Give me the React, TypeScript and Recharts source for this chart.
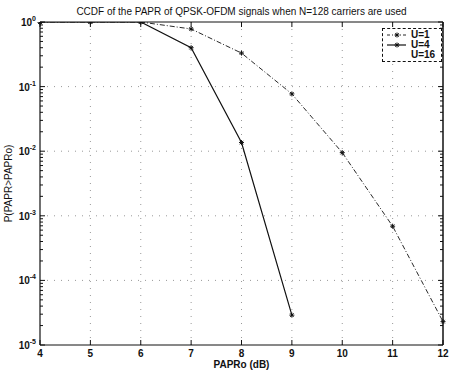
import React from "react";
import { LineChart, Line, XAxis, YAxis, ReferenceLine } from "recharts";

const papr = [4, 5, 6, 7, 8, 9, 10, 11, 12];
const u1 = [1, 1, 1, 0.78, 0.33, 0.077, 0.0095, 0.00069, 0.000023];
const u4 = [1, 1, 1, 0.4, 0.0136, 0.000029, null, null, null];
const xTicks = [4, 5, 6, 7, 8, 9, 10, 11, 12];
const xGrid = [5, 6, 7, 8, 9, 10, 11];
const yMajor = [1e-5, 1e-4, 1e-3, 1e-2, 1e-1, 1];
const yGrid = [1e-4, 1e-3, 1e-2, 1e-1];
const yMinorMult = [2, 3, 4, 5, 6, 7, 8, 9];
const seriesNames = ["U=1", "U=4", "U=16"];
const title = "CCDF of the PAPR of QPSK-OFDM signals when N=128 carriers are used";

const yTicks: number[] = [];
yMajor.forEach((m, i) => {
  yTicks.push(m);
  if (i < yMajor.length - 1) yMinorMult.forEach((k) => yTicks.push(m * k));
});

const data = papr.map((x, i) => ({ x, u1: u1[i], u4: u4[i] }));

const FONT = "'Liberation Sans', Arial, sans-serif";
const INK = "#111";

const isMajor = (v: number) => Math.abs(Math.log10(v) - Math.round(Math.log10(v))) < 1e-6;

const LeftTick = (props: any) => {
  const { x, y, payload } = props;
  const v = payload.value;
  const major = isMajor(v);
  const e = Math.round(Math.log10(v));
  return (
    <g>
      <line x1={x} x2={x + (major ? 5 : 3)} y1={y} y2={y} stroke={INK} strokeWidth={1} />
      {major && (
        <text x={x - 4} y={y + 4} textAnchor="end" fontFamily={FONT} fontSize={10} fontWeight="bold" fill={INK}>
          10
          <tspan dy={-5} fontSize={7}>{e}</tspan>
        </text>
      )}
    </g>
  );
};

const RightTick = (props: any) => {
  const { x, y, payload } = props;
  const major = isMajor(payload.value);
  return <line x1={x} x2={x - (major ? 5 : 3)} y1={y} y2={y} stroke={INK} strokeWidth={1} />;
};

const BottomTick = (props: any) => {
  const { x, y, payload } = props;
  return (
    <g>
      <line x1={x} x2={x} y1={y} y2={y - 5} stroke={INK} strokeWidth={1} />
      <text x={x} y={y + 12} textAnchor="middle" fontFamily={FONT} fontSize={10} fontWeight="bold" fill={INK}>
        {payload.value}
      </text>
    </g>
  );
};

const TopTick = (props: any) => {
  const { x, y } = props;
  return <line x1={x} x2={x} y1={y} y2={y + 5} stroke={INK} strokeWidth={1} />;
};

const Star = (props: any) => {
  const { cx, cy } = props;
  if (cx == null || cy == null) return null;
  const r = 2.5;
  return (
    <g stroke={INK} strokeWidth={1}>
      <line x1={cx - r} x2={cx + r} y1={cy} y2={cy} />
      <line x1={cx} x2={cx} y1={cy - r} y2={cy + r} />
      <line x1={cx - r * 0.7} x2={cx + r * 0.7} y1={cy - r * 0.7} y2={cy + r * 0.7} />
      <line x1={cx - r * 0.7} x2={cx + r * 0.7} y1={cy + r * 0.7} y2={cy - r * 0.7} />
    </g>
  );
};

const LegendBox = () => {
  const samples = [
    { dash: "3 2 1 2", width: 0.9, marker: true },
    { dash: undefined, width: 1.2, marker: true },
    { dash: undefined, width: 0, marker: false },
  ];
  return (
    <div
      style={{
        position: "absolute",
        left: 382,
        top: 28,
        border: `1px dashed ${INK}`,
        background: "#fff",
        width: 60,
        height: 34,
        boxSizing: "border-box",
        padding: "1px 0 0 3px",
        fontFamily: FONT,
        fontSize: 10,
        fontWeight: "bold",
        color: INK,
      }}
    >
      {seriesNames.map((n, i) => (
        <div key={n} style={{ display: "flex", alignItems: "center", height: 10, lineHeight: "10px" }}>
          <svg width={22} height={8} style={{ marginRight: 3 }}>
            {samples[i].width > 0 && (
              <line x1={1} x2={20} y1={4} y2={4} stroke={INK} strokeWidth={samples[i].width} strokeDasharray={samples[i].dash} />
            )}
            {samples[i].marker && <Star cx={11} cy={4} />}
          </svg>
          <span>{n}</span>
        </div>
      ))}
    </div>
  );
};

export default function App() {
  return (
    <div style={{ position: "absolute", left: 0, top: 0, width: 451, height: 372, background: "#fff" }}>
      <div
        style={{
          position: "absolute",
          left: 40,
          top: 6,
          width: 403,
          textAlign: "center",
          fontFamily: FONT,
          fontSize: 10,
          lineHeight: "12px",
          color: INK,
          whiteSpace: "nowrap",
        }}
      >
        {title}
      </div>
      <LineChart width={451} height={372} data={data} margin={{ top: 21, right: 7, bottom: 0, left: 0 }}>
        <XAxis
          xAxisId="b"
          dataKey="x"
          type="number"
          domain={[4, 12]}
          ticks={xTicks}
          height={27}
          tickSize={0}
          tickMargin={0}
          tickLine={false}
          axisLine={{ stroke: INK, strokeWidth: 1 }}
          tick={<BottomTick />}
          interval={0}
          label={{
            content: (p: any) => {
              const vb = p.viewBox;
              return (
                <text x={vb.x + vb.width / 2} y={vb.y + 23} textAnchor="middle" fontFamily={FONT} fontSize={10} fontWeight="bold" fill={INK}>
                  PAPRo (dB)
                </text>
              );
            },
          }}
        />
        <XAxis
          xAxisId="t"
          orientation="top"
          dataKey="x"
          type="number"
          domain={[4, 12]}
          ticks={xTicks}
          height={1}
          tickSize={0}
          tickMargin={0}
          tickLine={false}
          axisLine={{ stroke: INK, strokeWidth: 1 }}
          tick={<TopTick />}
          interval={0}
        />
        <YAxis
          yAxisId="l"
          type="number"
          scale="log"
          domain={[1e-5, 1]}
          allowDataOverflow
          ticks={yTicks}
          interval={0}
          width={40}
          tickSize={0}
          tickMargin={0}
          tickLine={false}
          axisLine={{ stroke: INK, strokeWidth: 1.2 }}
          tick={<LeftTick />}
          label={{
            content: (p: any) => {
              const vb = p.viewBox;
              const cx = 12;
              const cy = vb.y + vb.height / 2;
              return (
                <text x={cx} y={cy} transform={`rotate(-90 ${cx} ${cy})`} textAnchor="middle" fontFamily={FONT} fontSize={10} fill={INK}>
                  P(PAPR&gt;PAPRo)
                </text>
              );
            },
          }}
        />
        <YAxis
          yAxisId="r"
          orientation="right"
          type="number"
          scale="log"
          domain={[1e-5, 1]}
          allowDataOverflow
          ticks={yTicks}
          interval={0}
          width={1}
          tickSize={0}
          tickMargin={0}
          tickLine={false}
          axisLine={{ stroke: INK, strokeWidth: 1.5 }}
          tick={<RightTick />}
        />
        {xGrid.map((v) => (
          <ReferenceLine key={"x" + v} xAxisId="b" yAxisId="l" x={v} stroke="#999" strokeWidth={1} strokeDasharray="1 6" />
        ))}
        {yGrid.map((v) => (
          <ReferenceLine key={"y" + v} xAxisId="b" yAxisId="l" y={v} stroke="#999" strokeWidth={1} strokeDasharray="1 6" />
        ))}
        <Line
          xAxisId="b"
          yAxisId="l"
          dataKey="u1"
          name={seriesNames[0]}
          stroke={INK}
          strokeWidth={0.9}
          strokeDasharray="5 2 1 2"
          dot={<Star />}
          isAnimationActive={false}
          connectNulls={false}
        />
        <Line
          xAxisId="b"
          yAxisId="l"
          dataKey="u4"
          name={seriesNames[1]}
          stroke={INK}
          strokeWidth={1.2}
          dot={<Star />}
          isAnimationActive={false}
          connectNulls={false}
        />
      </LineChart>
      <LegendBox />
    </div>
  );
}
